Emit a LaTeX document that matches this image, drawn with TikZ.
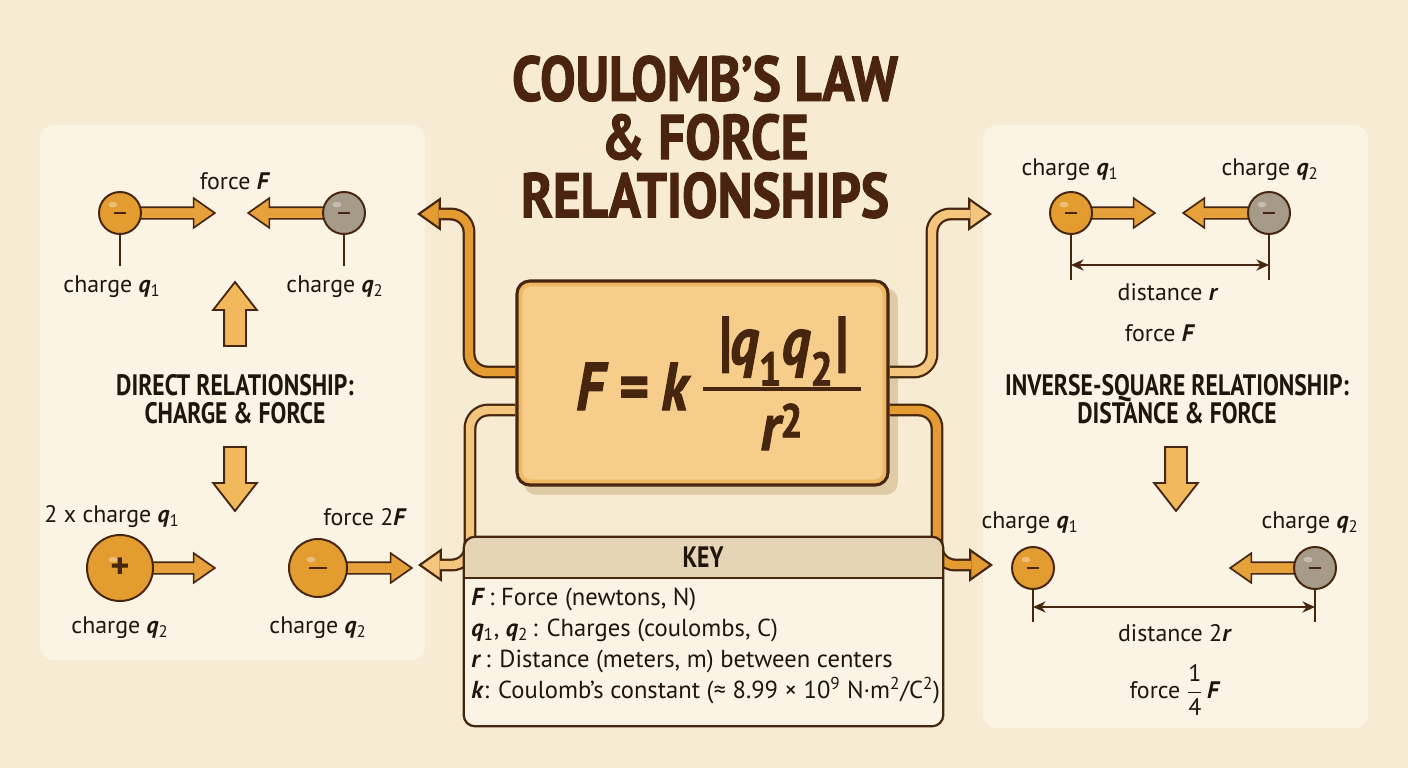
\documentclass[tikz,border=0pt]{standalone}
\usepackage{amsmath}
\usepackage{fontspec}
\setmainfont{PT Sans}
\newfontfamily\headfont{PT Sans}[FakeStretch=0.8]
\newfontfamily\titlefont{PT Sans}[FakeStretch=0.84, FakeBold=1.6]
\usetikzlibrary{positioning,shapes.arrows,arrows.meta}

\definecolor{bgpage}{HTML}{F7ECD3}
\definecolor{bgpanel}{HTML}{FBF4E5}
\definecolor{ink}{HTML}{1F150D}
\definecolor{brownline}{HTML}{47260F}
\definecolor{titlebrown}{HTML}{4A240E}
\definecolor{ballorange}{HTML}{E39C2F}
\definecolor{ballgray}{HTML}{A59B88}
\definecolor{forcefill}{HTML}{E6A13A}
\definecolor{blockfill}{HTML}{F1B95C}
\definecolor{tubedark}{HTML}{E49B31}
\definecolor{tubelight}{HTML}{F3C57D}
\definecolor{boxrim}{HTML}{EFB964}
\definecolor{boxinner}{HTML}{F6CD8A}
\definecolor{boxshadow}{HTML}{DFCBA6}
\definecolor{keyhead}{HTML}{E5D5B5}
\definecolor{keybody}{HTML}{FBF4E4}

%one pixel of the 1408x768 layout
\newcommand*{\Px}{0.7113pt}
\newcommand*{\qa}{\textbf{\textit{q}}\textsubscript{1}}
\newcommand*{\qb}{\textbf{\textit{q}}\textsubscript{2}}
\newcommand*{\bF}{\textbf{\textit{F}}}
\newcommand*{\bvar}[1]{\textbf{\textit{#1}}}
\newcommand*{\negsign}[1]{\rule{#1}{1.7pt}}

\pgfdeclarelayer{back}
\pgfdeclarelayer{tube}
\pgfsetlayers{back,tube,main}

\tikzset{
  lbl/.style={text=ink, inner sep=1pt, font=\fontsize{17}{20}\selectfont},
  headtext/.style={text=ink, align=center, font=\headfont\bfseries\fontsize{21}{20}\selectfont},
  titletext/.style={text=titlebrown, align=center, font=\titlefont\bfseries\fontsize{45}{41.5}\selectfont},
  formtext/.style={text=brownline, inner sep=0pt, font=\titlefont\bfseries\itshape\fontsize{48}{48}\selectfont},
  keytext/.style={text=ink, align=left, inner sep=0pt, font=\fontsize{17.5}{22}\selectfont},
  ball/.style={circle, draw=brownline, line width=1.4pt, fill=ballorange, inner sep=0pt,
    minimum size=42*\Px, text=brownline, font=\bfseries\fontsize{20}{20}\selectfont,
    path picture={\fill[white, opacity=.35] ([xshift=-5pt,yshift=6pt]path picture bounding box.center) ellipse (3.2pt and 2pt);}},
  grayball/.style={ball, fill=ballgray},
  forcearrow/.style={single arrow, draw=brownline, fill=forcefill, line width=1.2pt, inner xsep=0pt,
    inner ysep=5*\Px, single arrow head extend=9*\Px, single arrow tip angle=70, anchor=tail},
  blockarrow/.style={single arrow, draw=brownline, fill=blockfill, line width=1.3pt, inner xsep=0pt,
    inner ysep=10*\Px, single arrow head extend=11*\Px, single arrow tip angle=76, minimum height=64*\Px},
  stem/.style={draw=brownline, line width=1.2pt},
  dimarrow/.style={draw=brownline, line width=1.3pt, {Stealth[length=9pt,width=8pt]}-{Stealth[length=9pt,width=8pt]}},
  tubeout/.style={draw=brownline, line width=9.2pt, rounded corners=13pt, -{Triangle[length=17pt,width=24pt,line width=0pt]}},
  tubein/.style={line width=6pt, rounded corners=13pt, shorten >=2.8pt, -{Triangle[length=12.6pt,width=17.8pt,line width=0pt]}},
}

\begin{document}
\begin{tikzpicture}[x=\Px,y=-\Px]
\useasboundingbox (0,0) rectangle (1408,768);
\begin{pgfonlayer}{back}
%page and panels
\fill[bgpage] (0,0) rectangle (1408,768);
\fill[bgpanel, rounded corners=10pt] (40,125) rectangle (425,660);
\fill[bgpanel, rounded corners=10pt] (983,125) rectangle (1368,728);
\end{pgfonlayer}

%title
\node[titletext] (title) at (705,137) {COULOMB’S LAW\\\& FORCE\\RELATIONSHIPS};

%formula box
\node[draw=brownline, fill=boxrim, line width=2.2pt, rounded corners=9pt,
  minimum width=371*\Px, minimum height=204*\Px] (law) at (702.5,383) {};
\fill[boxinner, rounded corners=6pt] ([shift={(5pt,-5pt)}]law.north west) rectangle ([shift={(-5pt,5pt)}]law.south east);
\begin{pgfonlayer}{back}
\fill[boxshadow, rounded corners=9pt] ([shift={(6pt,-6pt)}]law.north west) rectangle ([shift={(6pt,-6pt)}]law.south east);
\end{pgfonlayer}
\node[formtext, anchor=base east] (lhs) at (688,410) {F = k};
\node[formtext, anchor=base] (num) at (782,364) {|q\textsubscript{\upshape 1}q\textsubscript{\upshape 2}|};
\node[formtext, anchor=base] (den) at (782,450) {r\textsuperscript{\upshape 2}};
\draw[brownline, line width=3pt] (703,389) -- (861,389);

%key
\node[fill=keybody, rounded corners=8pt, minimum width=479*\Px, minimum height=189*\Px] (key) at (703.5,631.5) {};
\begin{scope}
\clip (key.north west) rectangle ([yshift=-41*\Px]key.north east);
\fill[keyhead, rounded corners=8pt] (key.north west) rectangle (key.south east);
\end{scope}
\draw[brownline, line width=1.3pt] ([yshift=-41*\Px]key.north west) -- ([yshift=-41*\Px]key.north east);
\draw[brownline, line width=1.6pt, rounded corners=8pt] (key.north west) rectangle (key.south east);
\node[headtext] (keyhead) at (703,557) {KEY};
\node[keytext, anchor=north west] (keylines) at (471,588) {%
  \bF\,: Force (newtons, N)\\
  \qa, \qb\,: Charges (coulombs, C)\\
  \bvar{r}\,: Distance (meters, m) between centers\\
  \bvar{k}: Coulomb’s constant (≈ 8.99 × 10\textsuperscript{9} N·m\textsuperscript{2}/C\textsuperscript{2})};

%left panel: direct relationship
\node[lbl] (forceF) at (235,181) {force \bF};
\node[ball] (q1a) at (120,213) {\negsign{9pt}};
\node[grayball] (q2a) at (344,213) {\negsign{9pt}};
\node[lbl] (lq1a) at (112,287) {charge \qa};
\node[lbl] (lq2a) at (335,287) {charge \qb};
\node[blockarrow, rotate=90] (upL) at (235,321) {};
\node[headtext] (direct) at (235,399) {DIRECT RELATIONSHIP:\\CHARGE \& FORCE};
\node[blockarrow, rotate=-90] (downL) at (235,472) {};
\node[lbl] (lq1b) at (112,517) {2 x charge \qa};
\node[lbl] (force2F) at (365,517) {force 2\bF};
\node[ball, minimum size=66*\Px, font=\bfseries\fontsize{26}{26}\selectfont] (q1b) at (120,568) {+};
\node[ball, minimum size=58*\Px] (q2b) at (318,568) {\negsign{13pt}};
\node[lbl] (lq2b) at (120,628) {charge \qb};
\node[lbl] (lq2c) at (318,628) {charge \qb};

%right panel: inverse-square relationship
\node[lbl] (rlq1a) at (1070,170) {charge \qa};
\node[lbl] (rlq2a) at (1270,170) {charge \qb};
\node[ball] (rq1a) at (1071,213) {\negsign{9pt}};
\node[grayball] (rq2a) at (1269,213) {\negsign{9pt}};
\coordinate (d1a) at (1071,265);
\coordinate (d1b) at (1269,265);
\draw[dimarrow] (d1a) -- (d1b);
\node[lbl] (dist) at (1168,292) {distance \bvar{r}};
\node[lbl] (rforceF) at (1160,333) {force \bF};
\node[headtext] (inverse) at (1177,399) {INVERSE-SQUARE RELATIONSHIP:\\DISTANCE \& FORCE};
\node[blockarrow, rotate=-90] (downR) at (1176,472) {};
\node[lbl] (rlq1b) at (1030,523) {charge \qa};
\node[lbl] (rlq2b) at (1310,523) {charge \qb};
\node[ball] (rq1b) at (1033,568) {\negsign{9pt}};
\node[grayball] (rq2b) at (1315,568) {\negsign{9pt}};
\coordinate (d2a) at (1033,607);
\coordinate (d2b) at (1315,607);
\draw[dimarrow] (d2a) -- (d2b);
\node[lbl] (dist2) at (1175,633) {distance 2\bvar{r}};
\node[lbl] (quarter) at (1175,690) {force \(\dfrac{\text{1}}{\text{4}}\)\,\bF};

%arrow tips of the tubes
\coordinate (ltt) at (417,214);
\coordinate (lbt) at (418,565);
\coordinate (rtt) at (992,214);
\coordinate (rbt) at (993,565);

\begin{pgfonlayer}{tube}
%stems under the charges
\draw[stem] (q1a.center) -- (120,266);
\draw[stem] (q2a.center) -- (344,266);
\draw[stem] (rq1a.center) -- (1071,280);
\draw[stem] (rq2a.center) -- (1269,280);
\draw[stem] (rq1b.center) -- (1033,622);
\draw[stem] (rq2b.center) -- (1315,622);
%force arrows
\node[forcearrow, minimum height=76*\Px] (fa1) at ([xshift=-4*\Px]q1a.east) {};
\node[forcearrow, minimum height=77*\Px, shape border rotate=180] (fa2) at ([xshift=4*\Px]q2a.west) {};
\node[forcearrow, minimum height=64*\Px] (fa3) at ([xshift=-4*\Px]q1b.east) {};
\node[forcearrow, minimum height=67*\Px] (fa4) at ([xshift=-4*\Px]q2b.east) {};
\node[forcearrow, minimum height=65*\Px] (fa5) at ([xshift=-4*\Px]rq1a.east) {};
\node[forcearrow, minimum height=67*\Px, shape border rotate=180] (fa6) at ([xshift=4*\Px]rq2a.west) {};
\node[forcearrow, minimum height=66*\Px, shape border rotate=180] (fa7) at ([xshift=4*\Px]rq2b.west) {};
%tubes leaving the formula box
\draw[tubeout] ([yshift=11*\Px]law.west) -| (469,214) -- (ltt);
\draw[tubein, draw=tubedark] ([yshift=11*\Px]law.west) -| (469,214) -- (ltt);
\draw[tubeout] ([yshift=-27*\Px]law.west) -| (470,565) -- (lbt);
\draw[tubein, draw=tubelight] ([yshift=-27*\Px]law.west) -| (470,565) -- (lbt);
\draw[tubeout] ([yshift=11*\Px]law.east) -| (932,214) -- (rtt);
\draw[tubein, draw=tubelight] ([yshift=11*\Px]law.east) -| (932,214) -- (rtt);
\draw[tubeout] ([yshift=-27*\Px]law.east) -| (937,565) -- (rbt);
\draw[tubein, draw=tubedark] ([yshift=-27*\Px]law.east) -| (937,565) -- (rbt);
\end{pgfonlayer}
\end{tikzpicture}
\end{document}
